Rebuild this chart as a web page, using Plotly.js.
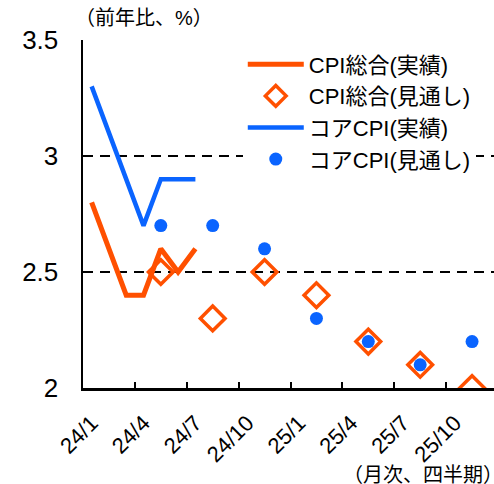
<!DOCTYPE html>
<html><head><meta charset="utf-8">
<script src="https://cdn.plot.ly/plotly-3.0.1.min.js"></script>
<style>html,body{margin:0;padding:0;overflow:hidden;background:#fff;}</style>
</head><body><div id="chart"></div>
<script>
const months = ["24/1","24/2","24/3","24/4","24/5","24/6","24/7","24/8","24/9","24/10","24/11","24/12",
                "25/1","25/2","25/3","25/4","25/5","25/6","25/7","25/8","25/9","25/10","25/11","25/12"];
const actualMonths = ["24/1","24/2","24/3","24/4","24/5","24/6","24/7"];
const cpiActual  = [2.8, 2.6, 2.4, 2.4, 2.6, 2.5, 2.6];
const coreActual = [3.3, 3.1, 2.9, 2.7, 2.9, 2.9, 2.9];
const forecastMonths = ["24/5","24/8","24/11","25/2","25/5","25/8","25/11"];
const cpiForecast  = [2.5, 2.3, 2.5, 2.4, 2.2, 2.1, 2.0];
const coreForecast = [2.7, 2.7, 2.6, 2.3, 2.2, 2.1, 2.2];

const ORANGE = "#FF5000", BLUE = "#0A64FF";
const FONT = "Liberation Sans, Arial, Noto Sans CJK JP, sans-serif";

const data = [
  {x: actualMonths, y: cpiActual, type: "scatter", mode: "lines", name: "CPI総合(実績)",
   line: {color: ORANGE, width: 5}, legendrank: 1},
  {x: actualMonths, y: coreActual, type: "scatter", mode: "lines", name: "コアCPI(実績)",
   line: {color: BLUE, width: 4.5}, legendrank: 3},
  {x: forecastMonths, y: cpiForecast, type: "scatter", mode: "markers", name: "CPI総合(見通し)",
   marker: {symbol: "diamond-open", size: 19, color: ORANGE, line: {width: 3.5, color: ORANGE}}, legendrank: 2},
  {x: forecastMonths, y: coreForecast, type: "scatter", mode: "markers", name: "コアCPI(見通し)",
   marker: {symbol: "circle", size: 13, color: BLUE}, legendrank: 4}
];

const layout = {
  width: 500, height: 484,
  margin: {l: 83, r: 2, t: 40, b: 96},
  paper_bgcolor: "#fff", plot_bgcolor: "#fff",
  font: {family: FONT, size: 22, color: "#000"},
  showlegend: true,
  legend: {x: 0.385, y: 0.99, xanchor: "left", yanchor: "top", bgcolor: "#fff",
           font: {family: FONT, size: 22, color: "#000"}, tracegroupgap: 0, itemwidth: 56},
  xaxis: {
    type: "category", categoryorder: "array", categoryarray: months,
    range: [-0.5, 23.5], tickmode: "linear", tick0: 0, dtick: 3,
    tickson: "boundaries", ticks: "inside", ticklen: 6, tickwidth: 2, tickcolor: "#000",
    tickangle: -45, tickfont: {family: FONT, size: 22, color: "#000"},
    ticklabelstandoff: 11,
    showline: true, linecolor: "#000", linewidth: 2.5, showgrid: false, zeroline: false,
    fixedrange: true
  },
  yaxis: {
    range: [2, 3.5], tickmode: "linear", tick0: 2, dtick: 0.5,
    ticks: "", showline: true, linecolor: "#000", linewidth: 2.5,
    showgrid: true, gridcolor: "#000", gridwidth: 2, griddash: "10px,7px",
    zeroline: false, tickfont: {family: FONT, size: 26, color: "#000"},
    ticklabelstandoff: 17, fixedrange: true
  },
  annotations: [
    {xref: "paper", yref: "paper", x: 0, y: 1.063, xanchor: "left", yanchor: "middle",
     text: "（前年比、%）", showarrow: false, font: {family: FONT, size: 20, color: "#000"}, xshift: -10},
    {xref: "paper", yref: "paper", x: 0.622, y: -0.212, xanchor: "left", yanchor: "top",
     text: "（月次、四半期）", showarrow: false, font: {family: FONT, size: 20, color: "#000"}}
  ]
};

Plotly.newPlot("chart", data, layout, {displayModeBar: false, staticPlot: true});
</script></body></html>
